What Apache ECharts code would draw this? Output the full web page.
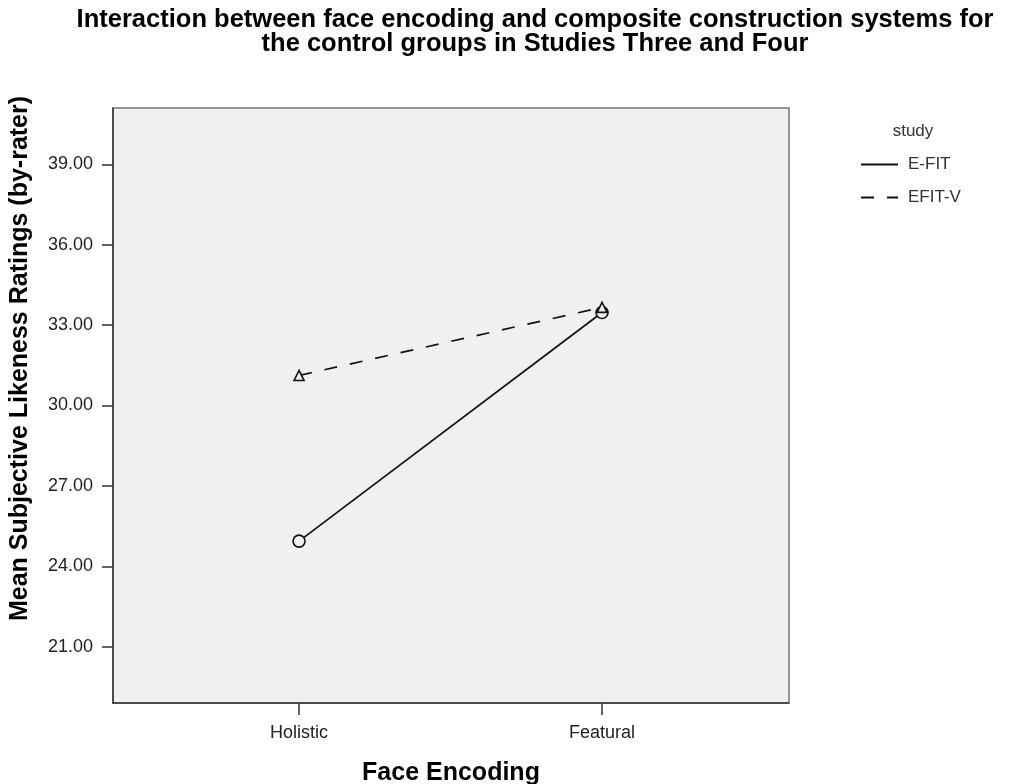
<!DOCTYPE html>
<html><head><meta charset="utf-8">
<script src="https://cdn.jsdelivr.net/npm/echarts@6/dist/echarts.min.js"></script>
<style>html,body{margin:0;padding:0;background:#fff}#c{width:1024px;height:784px}</style>
</head><body><div id="c"></div>
<script>
const categories = ['Holistic', 'Featural'];
const seriesNames = ['E-FIT', 'EFIT-V'];
const efitValues = [24.94, 33.47];
const efitvValues = [31.12, 33.66];
const yTicks = [21, 24, 27, 30, 33, 36, 39];

const FONT = 'Liberation Sans, Arial, sans-serif';
const chart = echarts.init(document.getElementById('c'), null, {renderer: 'canvas'});
const toPts = vals => vals.map((v, i) => [i, v]);

chart.setOption({
  animation: false,
  backgroundColor: '#ffffff',
  textStyle: {fontFamily: FONT},
  title: [{
    text: 'Interaction between face encoding and composite construction systems for\nthe control groups in Studies Three and Four',
    left: 530, top: 3, textAlign: 'center',
    textStyle: {fontFamily: FONT, fontSize: 25.5, fontWeight: 'bold', color: '#000', lineHeight: 24}
  }, {
    text: 'study', left: 908, top: 118, textAlign: 'center',
    textStyle: {fontFamily: FONT, fontSize: 17, fontWeight: 'normal', color: '#333'}
  }],
  legend: {
    orient: 'vertical', left: 855, top: 151,
    itemWidth: 37, itemHeight: 17, itemGap: 16,
    selectedMode: false,
    itemStyle: {opacity: 0},
    textStyle: {fontFamily: FONT, fontSize: 17, color: '#333', padding: [0, 0, 0, 5]},
    data: seriesNames
  },
  grid: {
    left: 113, top: 108, width: 676, height: 595,
    containLabel: false, outerBoundsMode: 'none',
    show: true, backgroundColor: '#f0f0f0', borderColor: '#777', borderWidth: 1.5
  },
  xAxis: {
    type: 'value', min: -0.614, max: 1.617,
    name: 'Face Encoding', nameLocation: 'middle', nameGap: 58,
    nameTextStyle: {fontFamily: FONT, fontSize: 25, fontWeight: 'bold', color: '#000'},
    axisLine: {onZero: false, lineStyle: {color: '#333', width: 1.5}},
    axisTick: {customValues: [0, 1], length: 12, lineStyle: {color: '#333', width: 1.5}},
    axisLabel: {customValues: [0, 1], margin: 21, fontFamily: FONT, fontSize: 18, color: '#222',
      formatter: v => categories[Math.round(v)]},
    splitLine: {show: false}
  },
  yAxis: {
    type: 'value', min: 18.9, max: 41.1,
    name: 'Mean Subjective Likeness Ratings (by-rater)', nameLocation: 'middle', nameGap: 80,
    nameTextStyle: {fontFamily: FONT, fontSize: 25, fontWeight: 'bold', color: '#000', padding: [0, 0, 0, 94]},
    axisLine: {onZero: false, lineStyle: {color: '#333', width: 1.5}},
    axisTick: {customValues: yTicks, length: 11, lineStyle: {color: '#333', width: 1.5}},
    axisLabel: {customValues: yTicks, margin: 20, fontFamily: FONT, fontSize: 18, color: '#222',
      formatter: v => Number(v).toFixed(2)},
    splitLine: {show: false}
  },
  series: [{
    name: seriesNames[0], type: 'line', data: toPts(efitValues),
    symbol: 'circle', symbolSize: 12,
    itemStyle: {color: '#f0f0f0', borderColor: '#111', borderWidth: 1.6},
    lineStyle: {color: '#111', width: 1.7, type: 'solid'},
    emphasis: {disabled: true}
  }, {
    name: seriesNames[1], type: 'line', data: toPts(efitvValues),
    symbol: 'triangle', symbolSize: 10,
    itemStyle: {color: '#f0f0f0', borderColor: '#111', borderWidth: 1.6},
    lineStyle: {color: '#111', width: 1.7, type: [13, 13]},
    emphasis: {disabled: true}
  }]
});
</script></body></html>
